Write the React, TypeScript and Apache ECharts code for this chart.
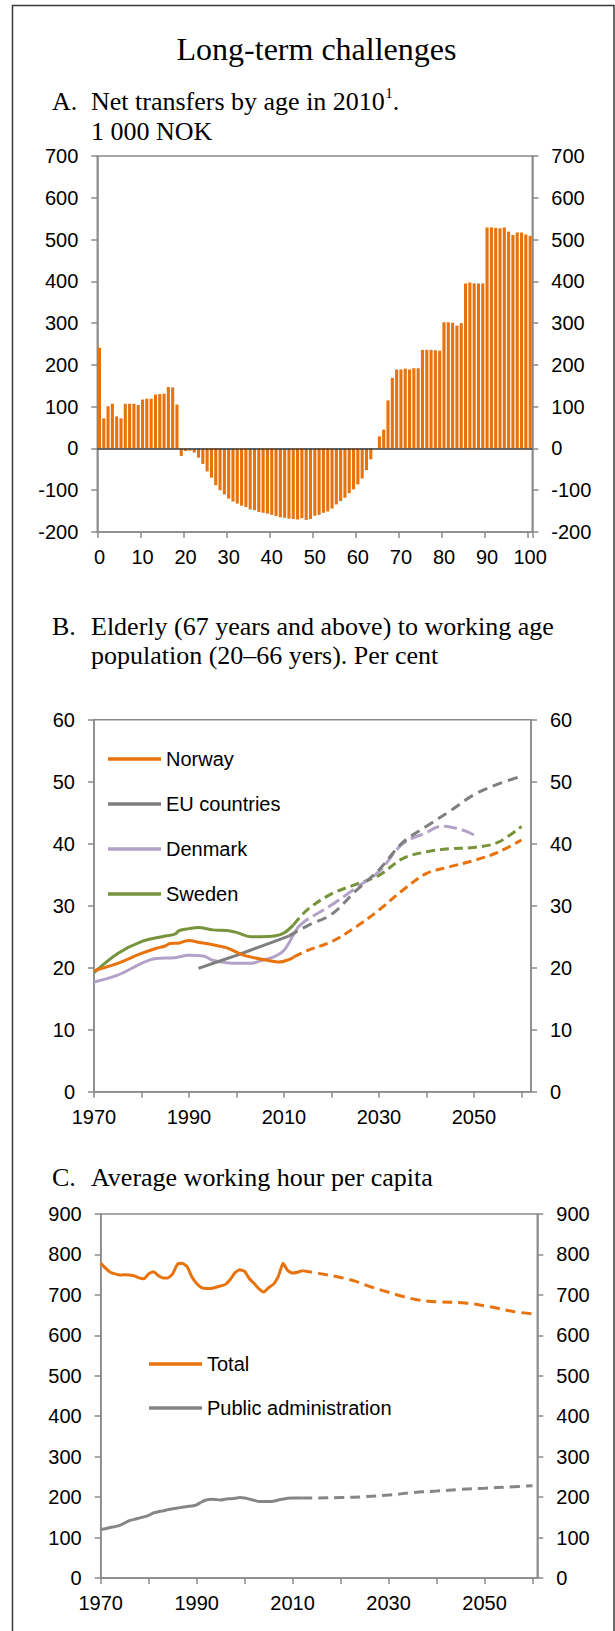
import React, { useEffect, useRef } from 'react';
import * as echarts from 'echarts';

// ---------- Panel A: net transfers by age ----------
const ageCategories = [
  '0','1','2','3','4','5','6','7','8','9','10','11','12','13','14','15','16','17','18','19',
  '20','21','22','23','24','25','26','27','28','29','30','31','32','33','34','35','36','37','38','39',
  '40','41','42','43','44','45','46','47','48','49','50','51','52','53','54','55','56','57','58','59',
  '60','61','62','63','64','65','66','67','68','69','70','71','72','73','74','75','76','77','78','79',
  '80','81','82','83','84','85','86','87','88','89','90','91','92','93','94','95','96','97','98','99','100'
];
const netTransfers = [
  241, 72, 101, 107, 77, 72, 107, 107, 107, 104,
  117, 119, 119, 129, 130, 131, 147, 146, 105, -18,
  -6, -5, -10, -22, -37, -55, -70, -88, -100, -110,
  -120, -127, -132, -137, -140, -146, -148, -152, -154, -156,
  -159, -162, -165, -166, -168, -169, -170, -167, -171, -169,
  -161, -159, -154, -151, -144, -134, -126, -118, -107, -98,
  -86, -72, -52, -26, 0, 29, 45, 115, 169, 189,
  189, 191, 189, 192, 192, 236, 236, 236, 235, 234,
  302, 302, 301, 294, 300, 395, 397, 395, 395, 395,
  529, 529, 528, 527, 529, 519, 511, 517, 517, 512, 509
];
const aTicks = { min: -200, max: 700, interval: 100 };

// ---------- Panel B: old-age ratio ----------
const norwayHistYears = [1970, 1975, 1980, 1983, 1985, 1986, 1988, 1990, 1992, 1995, 1998, 2000, 2002, 2005, 2008, 2009, 2011, 2012];
const norwayHist = [19.5, 20.7, 22.3, 23.1, 23.5, 23.9, 24.0, 24.4, 24.1, 23.7, 23.2, 22.5, 21.9, 21.4, 21.0, 20.9, 21.3, 21.7];
const norwayProjYears = [2012, 2015, 2020, 2025, 2030, 2035, 2040, 2045, 2050, 2055, 2060];
const norwayProj = [21.7, 22.8, 24.2, 26.5, 29.3, 32.5, 35.2, 36.3, 37.3, 38.6, 40.6];

const euHistYears = [1992, 2000, 2005, 2011];
const euHist = [19.9, 22.0, 23.4, 25.1];
const euProjYears = [2011, 2015, 2020, 2025, 2030, 2035, 2040, 2045, 2050, 2055, 2060];
const euProj = [25.1, 26.8, 28.6, 32.3, 35.8, 40.2, 42.8, 45.3, 47.9, 49.6, 50.9];

const denmarkHistYears = [1970, 1975, 1980, 1983, 1987, 1990, 1993, 1995, 1998, 2000, 2003, 2005, 2008, 2010, 2012, 2013];
const denmarkHist = [17.7, 18.8, 20.7, 21.5, 21.6, 22.0, 21.9, 21.2, 20.8, 20.7, 20.7, 21.1, 21.8, 22.8, 25.3, 26.6];
const denmarkProjYears = [2013, 2015, 2020, 2025, 2030, 2035, 2040, 2043, 2045, 2048, 2050];
const denmarkProj = [26.6, 27.8, 30.1, 32.8, 35.5, 40.0, 41.8, 42.8, 42.7, 42.1, 41.4];

const swedenHistYears = [1970, 1975, 1980, 1985, 1987, 1988, 1990, 1992, 1995, 1998, 2000, 2003, 2005, 2008, 2010, 2012];
const swedenHist = [19.2, 22.3, 24.2, 25.1, 25.4, 26.0, 26.3, 26.5, 26.1, 26.0, 25.7, 25.0, 25.0, 25.1, 25.6, 26.9];
const swedenProjYears = [2012, 2015, 2020, 2025, 2030, 2035, 2040, 2045, 2050, 2055, 2060];
const swedenProj = [26.9, 29.4, 31.9, 33.4, 34.9, 37.6, 38.7, 39.2, 39.4, 40.2, 42.8];

// ---------- Panel C: working hours ----------
const cHistYears = [
  1970, 1971, 1972, 1973, 1974, 1975, 1976, 1977, 1978, 1979,
  1980, 1981, 1982, 1983, 1984, 1985, 1986, 1987, 1988, 1989,
  1990, 1991, 1992, 1993, 1994, 1995, 1996, 1997, 1998, 1999,
  2000, 2001, 2002, 2003, 2004, 2005, 2006, 2007, 2008, 2009,
  2010, 2011, 2012
];
const totalHist = [
  778, 766, 756, 752, 749, 750, 749, 747, 742, 740,
  752, 757, 748, 742, 742, 752, 776, 778, 770, 745,
  728, 718, 716, 716, 719, 722, 726, 738, 755, 762,
  758, 740, 728, 715, 707, 718, 726, 745, 778, 760,
  754, 756, 760
];
const publicHist = [
  120, 122, 125, 127, 130, 136, 142, 145, 148, 151,
  155, 161, 164, 166, 169, 171, 173, 175, 177, 178,
  181, 188, 193, 195, 194, 193, 195, 196, 197, 199,
  198, 195, 192, 189, 189, 189, 190, 193, 195, 197,
  198, 198, 198
];
const totalProjYears = [2012, 2016, 2020, 2023, 2026, 2029, 2033, 2036, 2040, 2046, 2051, 2056, 2060];
const totalProj = [760, 752, 743, 734, 721, 710, 696, 688, 683, 680, 671, 659, 653];
const publicProjYears = [2012, 2015, 2020, 2025, 2030, 2035, 2040, 2045, 2050, 2055, 2060];
const publicProj = [198, 198, 199, 201, 205, 211, 215, 219, 222, 225, 228];

const legendB = ['Norway', 'EU countries', 'Denmark', 'Sweden'];
const legendC = ['Total', 'Public administration'];

const ORANGE = '#E8720C';
const EU_GRAY = '#7F7F7F';
const LILAC = '#B3A2C7';
const GREEN = '#77933C';
const PUB_GRAY = '#868686';
const AXIS = '#8A8A8A';
const SANS = '"Liberation Sans", Arial, sans-serif';
const SERIF = '"Liberation Serif", "Times New Roman", serif';

const zip = (xs: number[], ys: number[]) => xs.map((x, i) => [x, ys[i]]);

function measure(text: string, font: string): number {
  const c = document.createElement('canvas');
  const ctx = c.getContext('2d');
  if (!ctx) return text.length * 12;
  ctx.font = font;
  return ctx.measureText(text).width;
}

function valueAxisY(gridIndex: number, min: number, max: number, interval: number, position: 'left' | 'right') {
  return {
    type: 'value',
    gridIndex,
    position,
    min,
    max,
    interval,
    axisLine: { show: true, lineStyle: { color: AXIS, width: 1.5 } },
    axisTick: { show: true, length: 6, inside: false, lineStyle: { color: AXIS, width: 1.5 } },
    axisLabel: { show: true, margin: 19, fontFamily: SANS, fontSize: 20, color: '#000' },
    splitLine: { show: false },
  };
}

function yearAxis(gridIndex: number, max: number) {
  return {
    type: 'value',
    gridIndex,
    min: 1970,
    max,
    interval: 10,
    axisLine: { show: true, onZero: false, lineStyle: { color: AXIS, width: 1.5 } },
    axisTick: { show: true, length: 6, lineStyle: { color: AXIS, width: 1.5 } },
    axisLabel: {
      show: true,
      margin: 15,
      fontFamily: SANS,
      fontSize: 20,
      color: '#000',
      showMaxLabel: false,
      formatter: (v: number) => ((v - 1970) % 20 === 0 && v <= 2060 ? String(v) : ''),
    },
    splitLine: { show: false },
  };
}

function lineSeries(name: string, data: number[][], color: string, xi: number, yi: number, dash: number[] | null, smooth: number | boolean) {
  return {
    type: 'line',
    name,
    xAxisIndex: xi,
    yAxisIndex: yi,
    data,
    showSymbol: false,
    symbol: 'none',
    smooth,
    itemStyle: { color },
    lineStyle: { color, width: 3, type: dash ? dash : 'solid', cap: 'butt' },
    emphasis: { disabled: true },
  };
}

export default function App() {
  const ref = useRef<HTMLDivElement>(null);

  useEffect(() => {
    if (!ref.current) return;
    const chart = echarts.init(ref.current, undefined, { renderer: 'svg' });

    const subFont = 26;
    const mainText = 'Net transfers by age in 2010';
    const wMain = measure(mainText, `${subFont}px "Liberation Serif"`);
    const textX = 91;

    const txt = (text: string, x: number, y: number, size: number, align = 'left') => ({
      type: 'text',
      x,
      y,
      silent: true,
      style: {
        text,
        fill: '#000',
        fontFamily: SERIF,
        fontSize: size,
        align,
        verticalAlign: 'middle',
      },
    });

    const legendCommon = {
      orient: 'vertical',
      icon: 'rect',
      itemWidth: 53,
      itemHeight: 3.5,
      padding: 0,
      selectedMode: false,
      textStyle: { fontFamily: SANS, fontSize: 20, color: '#000', lineHeight: 20 },
    };

    const option: any = {
      animation: false,
      backgroundColor: '#fff',
      graphic: [
        {
          type: 'rect',
          silent: true,
          z: -10,
          shape: { x: 12.5, y: 5.5, width: 601.5, height: 1660 },
          style: { fill: 'none', stroke: '#3a3a3a', lineWidth: 1.5 },
        },
        txt('Long-term challenges', 316.5, 48.5, 32, 'center'),
        txt('A.', 52, 101, subFont),
        txt(mainText, textX, 101, subFont),
        txt('1', textX + wMain + 0.5, 93, 15),
        txt('.', textX + wMain + 8, 101, subFont),
        txt('1 000 NOK', textX, 131.5, subFont),
        txt('B.', 52, 626, subFont),
        txt('Elderly (67 years and above) to working age', textX, 626, subFont),
        txt('population (20–66 yers). Per cent', textX, 655, subFont),
        txt('C.', 52, 1177, subFont),
        txt('Average working hour per capita', textX, 1177, subFont),
      ],
      grid: [
        { left: 97.3, top: 156, width: 435, height: 376, show: true, borderColor: AXIS, borderWidth: 1.5, containLabel: false },
        { left: 94, top: 719.7, width: 437, height: 372, show: true, borderColor: AXIS, borderWidth: 1.5, containLabel: false },
        { left: 100.7, top: 1214, width: 436.6, height: 364, show: true, borderColor: AXIS, borderWidth: 1.5, containLabel: false },
      ],
      legend: [
        { ...legendCommon, data: legendB, left: 108, top: 749, itemGap: 25 },
        { ...legendCommon, data: legendC, left: 149, top: 1354, itemGap: 24 },
      ],
      xAxis: [
        {
          type: 'category',
          gridIndex: 0,
          data: ageCategories,
          boundaryGap: true,
          axisLine: { show: true, onZero: false, lineStyle: { color: AXIS, width: 1.5 } },
          axisTick: { show: true, length: 6, interval: 9, alignWithLabel: false, lineStyle: { color: AXIS, width: 1.5 } },
          axisLabel: { show: true, interval: 9, margin: 15, fontFamily: SANS, fontSize: 20, color: '#000' },
          splitLine: { show: false },
        },
        yearAxis(1, 2062),
        yearAxis(2, 2061),
      ],
      yAxis: [
        valueAxisY(0, aTicks.min, aTicks.max, aTicks.interval, 'left'),
        valueAxisY(0, aTicks.min, aTicks.max, aTicks.interval, 'right'),
        valueAxisY(1, 0, 60, 10, 'left'),
        valueAxisY(1, 0, 60, 10, 'right'),
        valueAxisY(2, 0, 900, 100, 'left'),
        valueAxisY(2, 0, 900, 100, 'right'),
      ],
      series: [
        {
          type: 'bar',
          name: 'Net transfers',
          xAxisIndex: 0,
          yAxisIndex: 0,
          data: netTransfers,
          barWidth: 3.1,
          itemStyle: { color: ORANGE },
          emphasis: { disabled: true },
          markLine: {
            silent: true,
            symbol: ['none', 'none'],
            label: { show: false },
            lineStyle: { color: '#3a3a3a', width: 1.5, type: 'solid' },
            data: [{ yAxis: 0 }],
          },
        },
        lineSeries('Sweden', zip(swedenHistYears, swedenHist), GREEN, 1, 2, null, 0.35),
        lineSeries('Sweden projection', zip(swedenProjYears, swedenProj), GREEN, 1, 2, [9, 5], 0.35),
        lineSeries('Denmark', zip(denmarkHistYears, denmarkHist), LILAC, 1, 2, null, 0.35),
        lineSeries('Denmark projection', zip(denmarkProjYears, denmarkProj), LILAC, 1, 2, [13, 5], 0.35),
        lineSeries('EU countries', zip(euHistYears, euHist), EU_GRAY, 1, 2, null, 0.2),
        lineSeries('EU countries projection', zip(euProjYears, euProj), EU_GRAY, 1, 2, [10, 6], 0.35),
        lineSeries('Norway', zip(norwayHistYears, norwayHist), ORANGE, 1, 2, null, 0.35),
        lineSeries('Norway projection', zip(norwayProjYears, norwayProj), ORANGE, 1, 2, [9, 5], 0.35),
        lineSeries('Total', zip(cHistYears, totalHist), ORANGE, 2, 4, null, 0.15),
        lineSeries('Total projection', zip(totalProjYears, totalProj), ORANGE, 2, 4, [10, 6], 0.35),
        lineSeries('Public administration', zip(cHistYears, publicHist), PUB_GRAY, 2, 4, null, 0.15),
        lineSeries('Public administration projection', zip(publicProjYears, publicProj), PUB_GRAY, 2, 4, [10, 6], 0.35),
      ],
    };

    chart.setOption(option);
    return () => {
      chart.dispose();
    };
  }, []);

  return (
    <div
      ref={ref}
      style={{ position: 'absolute', left: 0, top: 0, width: 615, height: 1631, background: '#fff' }}
    />
  );
}
